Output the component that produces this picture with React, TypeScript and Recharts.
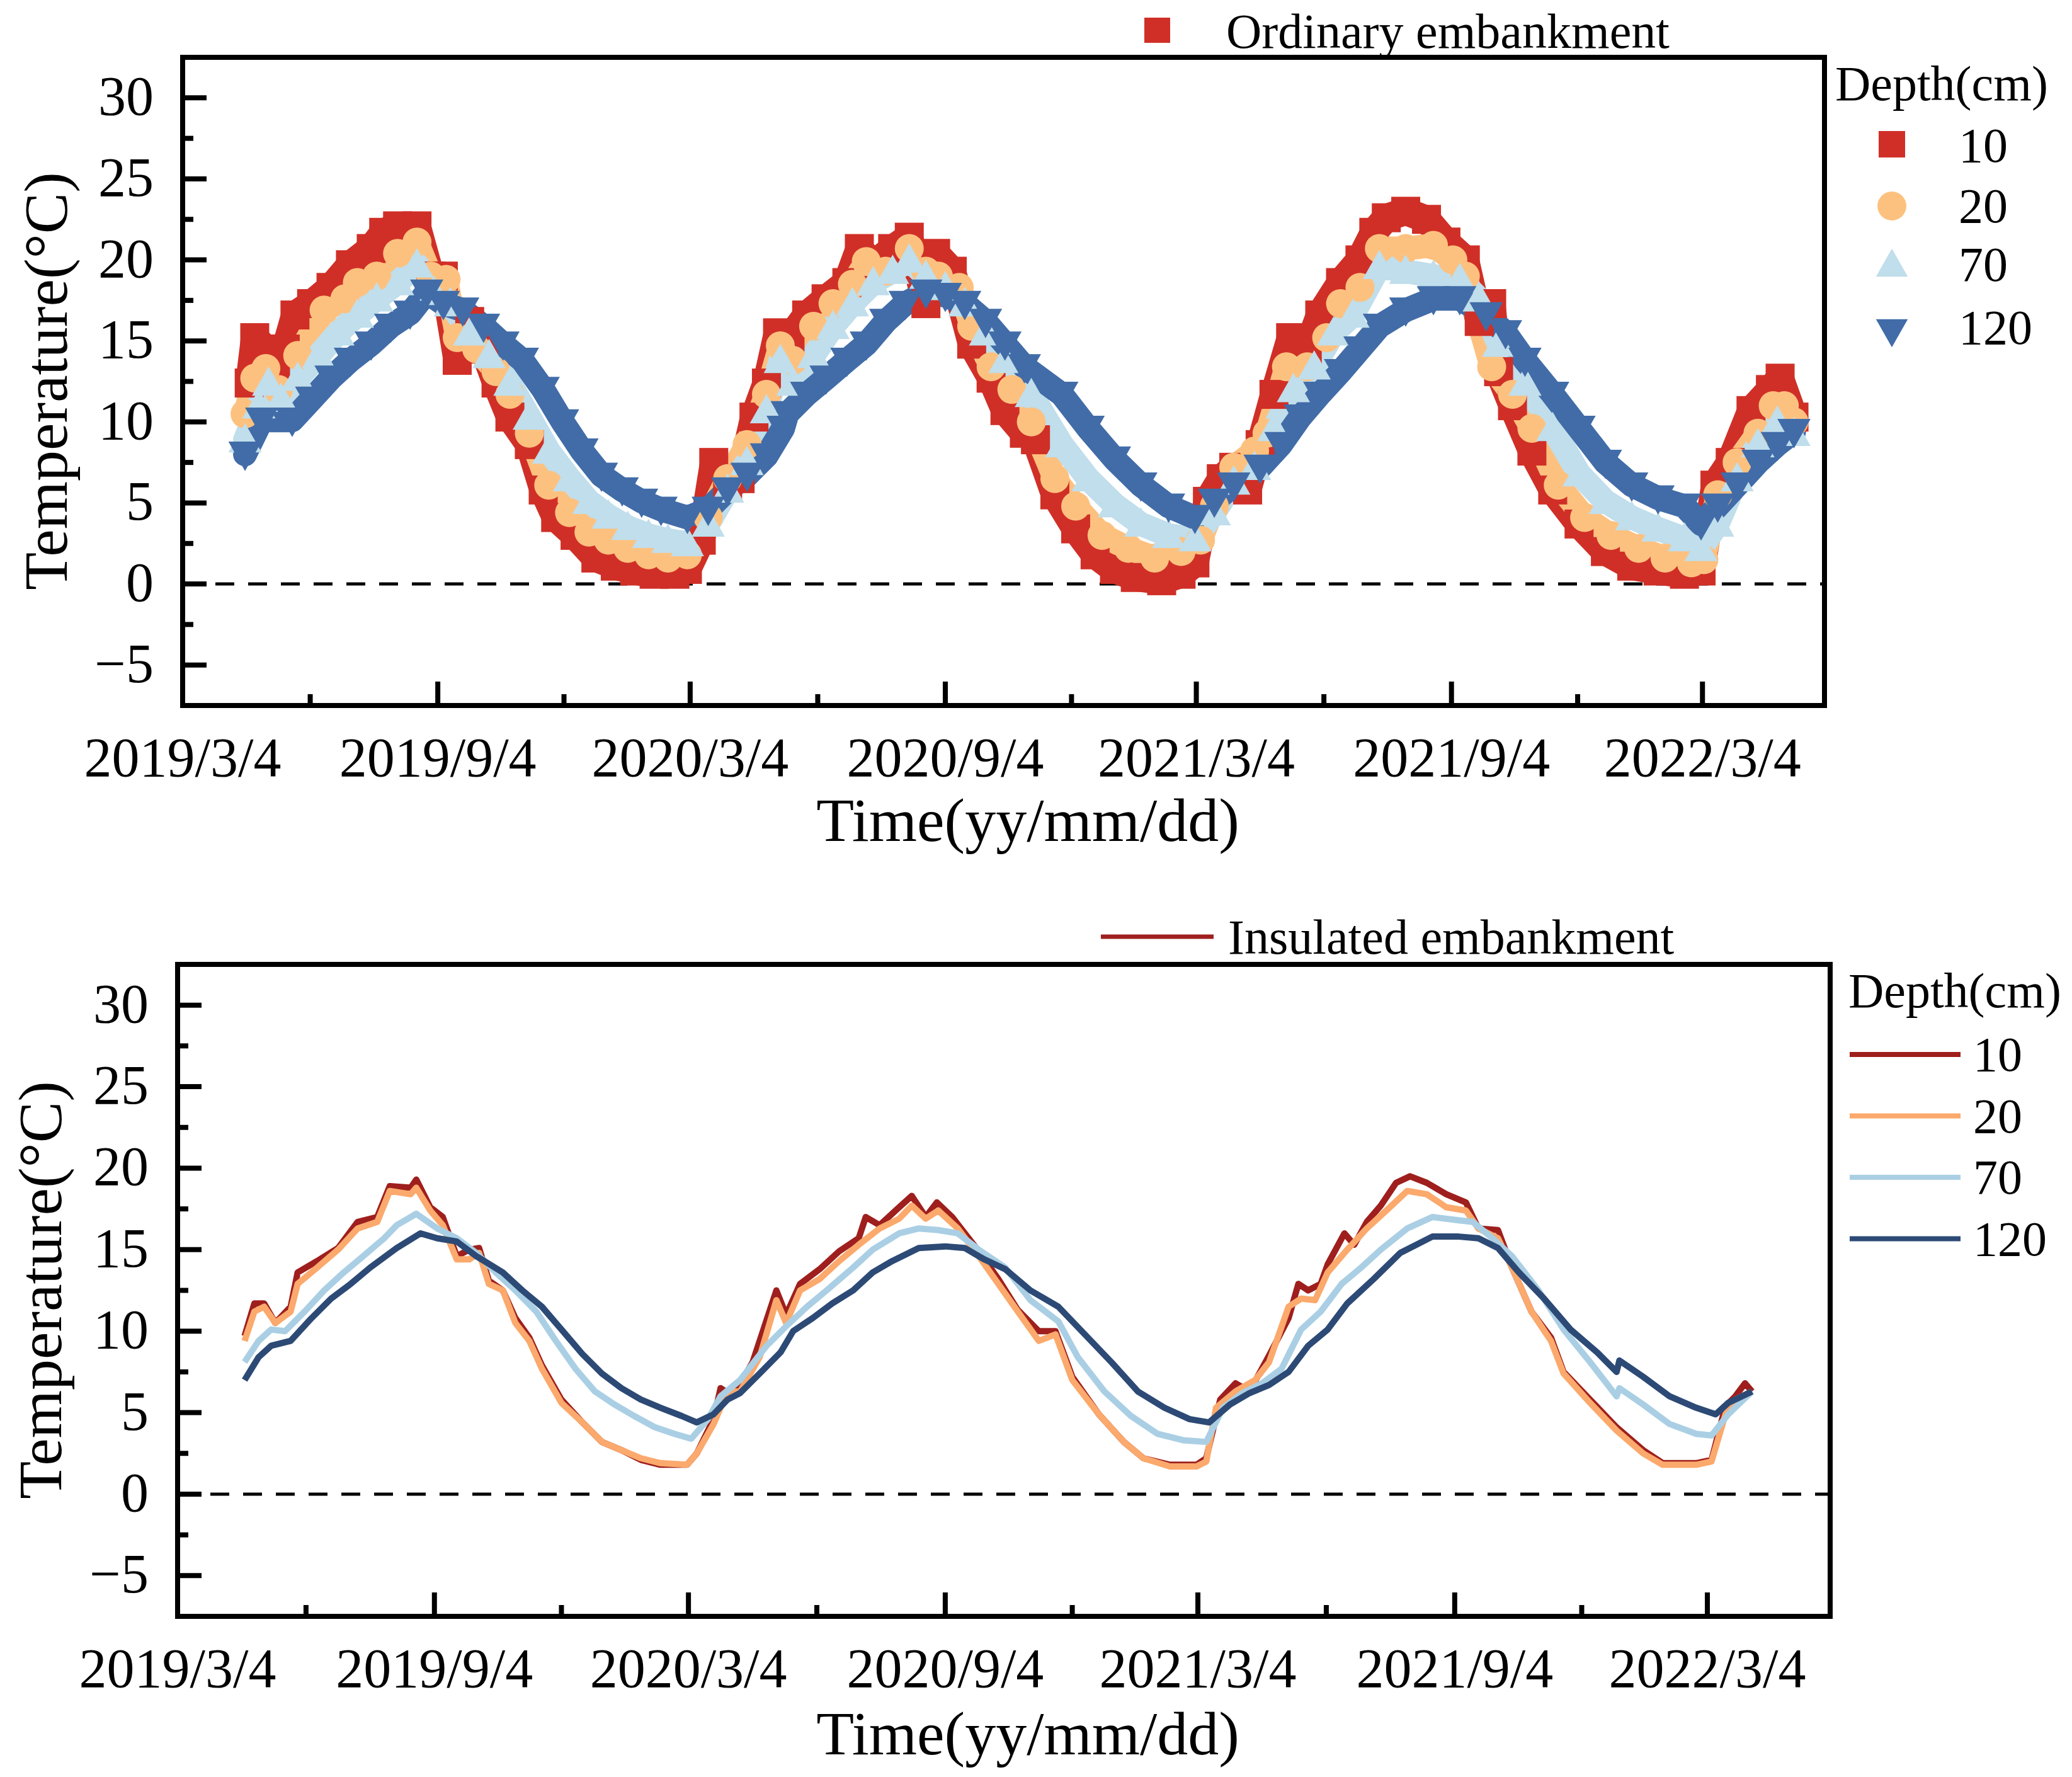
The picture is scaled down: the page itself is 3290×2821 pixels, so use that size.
import React from 'react';
import { LineChart, Line, XAxis, YAxis, ReferenceLine, ReferenceArea } from 'recharts';

const FONT = '"Liberation Serif", "Times New Roman", Times, serif';

// ---- axes ----
const xMajorDays = [0, 184, 366, 550, 731, 915, 1096];
const xMajorLabels = ['2019/3/4', '2019/9/4', '2020/3/4', '2020/9/4', '2021/3/4', '2021/9/4', '2022/3/4'];
const xMinorDays = [92, 275, 458, 641, 823, 1006];
const yMajor = [-5, 0, 5, 10, 15, 20, 25, 30];
const yMinor = [-2.5, 2.5, 7.5, 12.5, 17.5, 22.5, 27.5];
const xDomain = [0, 1184];
const yDomain = [-7.5, 32.5];
const depthLabels = ['10', '20', '70', '120'];

// ---- Ordinary embankment (days since 2019/3/4, temperature °C) ----
const ord10Days = [48,52,60,67,74,81,93,107,121,136,145,155,169,179,188,198,207,217,226,236,250,260,269,283,298,312,326,340,355,364,374,383,393,402,412,421,429,438,450,464,479,488,498,512,524,536,543,555,569,583,593,607,615,629,644,658,672,687,706,720,730,739,749,758,768,777,787,799,811,820,835,849,859,868,882,897,911,925,935,944,949,959,973,988,1007,1026,1045,1064,1083,1095,1105,1116,1131,1145,1152,1162];
const ord10 = [12.4,15.2,14.5,13.4,14.5,16.6,17.3,18.3,19.7,20.7,21.7,22.1,22.1,19.0,19.0,13.8,16.2,14.5,12.4,10.3,8.6,5.8,4.1,3.0,1.6,1.1,0.8,0.6,0.6,0.9,2.7,7.5,6.1,6.5,10.3,12.4,15.5,15.2,16.6,17.6,18.6,20.7,19.7,20.7,21.4,17.3,20.4,19.3,14.8,12.7,10.7,9.3,8.9,5.5,3.4,1.8,0.9,0.4,0.2,0.6,1.3,5.1,6.5,7.2,5.8,8.6,11.7,15.2,14.5,16.6,18.6,20.0,21.7,22.6,23.0,22.5,21.1,20.0,16.2,17.3,13.1,11.0,8.2,5.8,3.7,2.0,1.1,0.8,0.6,0.8,6.1,7.5,10.7,12.0,12.7,10.3];

const ord20Days = [45,52,60,69,83,102,117,126,140,155,169,179,190,198,212,226,236,250,264,279,293,307,321,336,350,364,379,393,407,421,431,440,455,469,483,493,507,524,536,545,560,569,583,598,612,629,644,663,682,701,720,734,744,758,773,782,796,811,825,835,849,863,882,902,916,925,944,959,973,992,1011,1030,1050,1069,1088,1097,1107,1121,1136,1147,1155,1162];
const ord20 = [10.5,12.7,13.3,12.0,14.1,16.9,17.6,18.6,19.0,20.4,21.1,19.0,18.8,15.2,14.5,13.1,11.7,9.3,6.1,4.4,3.2,2.7,2.2,1.8,1.6,1.8,4.1,6.5,8.6,11.7,14.7,13.8,15.9,17.3,18.5,19.9,19.3,20.7,19.3,19.0,18.3,15.9,13.4,12.0,10.0,6.5,4.8,3.0,2.2,1.6,2.0,2.7,4.8,7.2,8.2,9.3,13.4,13.4,15.2,17.3,18.3,20.7,20.7,20.9,20.0,19.0,13.4,11.7,9.6,6.1,4.1,3.0,2.2,1.6,1.3,1.5,5.5,7.5,9.3,11.0,11.0,10.0];

const ord70Days = [45,55,62,71,83,98,112,126,140,155,169,181,193,207,221,236,250,264,279,293,307,321,336,350,364,379,393,407,421,431,440,455,469,483,498,512,524,536,550,564,579,593,612,634,653,672,691,711,730,744,758,773,787,801,816,830,844,863,882,902,921,935,949,968,988,1007,1026,1045,1064,1083,1095,1107,1121,1136,1150,1162];
const ord70 = [8.9,11.0,12.4,11.4,12.7,14.1,15.5,16.6,17.6,18.6,19.7,18.0,17.3,15.5,14.1,12.4,10.3,8.2,6.5,5.1,4.2,3.5,3.0,2.7,2.5,3.7,5.8,7.5,10.7,13.8,12.4,14.1,15.9,17.3,18.6,19.3,20.0,19.0,18.3,17.3,15.5,13.8,11.7,8.6,6.5,4.9,3.7,3.0,2.8,4.4,6.3,7.2,9.6,12.0,13.4,15.5,16.6,19.6,19.3,19.0,18.8,17.6,14.8,12.4,9.6,6.8,5.1,4.1,3.4,2.8,2.2,3.7,6.5,8.6,10.0,9.3];

const ord120Days = [45,57,79,93,107,121,136,150,164,176,188,202,217,231,245,260,274,288,302,317,331,345,364,379,393,407,421,433,436,450,464,479,493,507,521,536,550,564,579,593,607,634,653,672,691,711,730,744,758,777,792,806,820,835,849,863,882,902,921,940,954,968,988,1007,1026,1045,1064,1083,1095,1107,1121,1136,1150,1162];
const ord120 = [8.0,10.1,10.1,11.4,12.7,13.8,14.8,15.9,16.7,18.0,17.3,16.9,15.9,14.8,13.8,12.0,10.0,8.2,6.7,5.8,5.1,4.6,4.1,4.6,5.8,6.7,7.9,9.6,10.5,11.7,12.7,13.8,14.8,16.2,17.3,18.0,17.8,17.3,16.2,14.8,13.4,11.7,9.6,7.7,6.1,4.8,4.1,5.1,6.1,7.2,8.6,10.3,11.7,13.1,14.5,15.9,16.9,17.6,17.6,16.6,15.5,13.8,11.7,9.6,7.5,6.1,5.3,4.8,3.7,4.8,6.1,7.5,8.6,9.4];

// ---- Insulated embankment ----
const ins10Days = [48,55,62,70,81,86,100,115,129,143,152,167,171,181,190,200,209,216,223,233,242,252,261,275,290,304,318,332,346,365,372,384,389,398,412,429,436,446,460,474,488,493,503,517,526,536,544,555,574,588,602,617,629,641,660,678,692,711,730,737,747,758,768,782,796,803,810,819,824,836,843,852,862,873,883,895,909,923,932,946,956,970,984,993,1012,1031,1050,1064,1088,1099,1109,1116,1123,1128];
const ins10 = [9.7,11.7,11.7,10.5,11.5,13.6,14.3,15.1,16.7,17.0,18.9,18.8,19.3,17.6,17.0,14.6,15.0,15.1,13.1,12.5,10.8,9.6,7.9,5.8,4.4,3.2,2.7,2.1,1.8,1.8,2.5,4.6,6.5,6.0,8.1,12.5,11.0,12.9,13.8,14.9,15.7,17.0,16.5,17.6,18.3,17.0,17.9,17.0,14.9,13.2,11.3,10.0,10.0,7.2,4.9,3.2,2.2,1.8,1.8,2.2,5.8,6.8,6.3,8.5,10.8,12.9,12.5,12.9,14.1,16.0,15.3,16.7,17.7,19.1,19.5,19.1,18.4,17.9,16.3,16.2,13.9,11.2,9.6,7.5,5.8,4.1,2.7,1.9,1.9,2.1,5.4,6.0,6.8,6.3];

const ins20Days = [48,55,62,70,81,86,100,115,129,143,152,167,171,181,190,200,209,216,223,233,242,252,261,275,290,304,318,332,346,365,372,384,394,403,417,429,436,446,460,474,488,503,517,526,536,545,559,574,588,602,617,629,641,660,678,692,711,730,737,744,758,772,782,796,805,815,824,838,852,866,881,895,909,923,932,946,956,970,984,993,1012,1031,1050,1064,1088,1099,1109,1116,1128];
const ins20 = [9.4,11.2,11.5,10.5,11.2,12.9,13.9,15.0,16.3,16.7,18.6,18.4,18.8,17.4,16.5,14.4,14.4,14.8,12.9,12.5,10.5,9.4,7.7,5.6,4.4,3.2,2.7,2.2,1.9,1.8,2.5,4.3,6.3,6.3,8.4,11.9,10.5,12.5,13.2,14.3,15.3,16.3,16.9,17.7,16.9,17.4,16.3,14.6,12.9,11.2,9.4,9.8,7.0,4.9,3.2,2.2,1.7,1.7,2.0,5.3,6.3,7.0,8.1,11.5,12.0,11.9,13.6,15.0,16.3,17.4,18.6,18.4,17.6,17.4,16.3,15.7,13.9,11.2,9.4,7.4,5.6,3.9,2.5,1.8,1.8,2.0,4.9,5.8,6.3];

const ins70Days = [48,58,67,77,91,105,119,133,148,157,171,186,200,214,228,242,257,271,285,299,313,327,342,356,368,380,389,403,422,436,451,465,484,498,517,531,545,559,574,593,611,631,645,664,683,702,721,737,749,763,777,791,805,819,834,848,862,881,899,918,928,942,956,975,993,1012,1031,1033,1050,1069,1088,1099,1111,1128];
const ins70 = [8.1,9.4,10.1,10.0,11.2,12.5,13.6,14.6,15.7,16.5,17.2,16.3,15.7,14.8,13.6,12.5,11.2,9.4,7.7,6.3,5.5,4.8,4.1,3.7,3.4,4.6,6.0,7.0,9.1,10.3,11.5,12.5,13.9,15.0,16.0,16.3,16.2,16.0,15.0,13.9,11.9,10.6,8.4,6.3,4.8,3.7,3.3,3.2,5.3,6.2,6.8,7.7,10.1,11.2,12.9,13.9,15.0,16.3,17.0,16.8,16.7,15.7,14.6,12.5,10.1,8.1,6.0,6.5,5.5,4.3,3.7,3.6,4.9,6.3];

const ins120Days = [48,58,67,81,96,110,124,138,157,174,186,200,214,233,247,261,275,290,304,318,332,346,361,372,384,394,403,417,432,441,455,469,484,498,512,531,550,564,578,593,611,631,650,669,688,707,725,739,754,768,782,796,810,824,838,857,876,899,918,932,946,961,979,998,1017,1031,1033,1050,1069,1088,1102,1111,1128];
const ins120 = [7.0,8.4,9.1,9.4,10.8,12.0,12.9,13.9,15.1,16.0,15.7,15.5,14.6,13.6,12.5,11.5,10.1,8.6,7.4,6.5,5.8,5.3,4.8,4.4,4.9,5.8,6.2,7.4,8.7,10.0,10.8,11.7,12.5,13.6,14.3,15.1,15.2,15.1,14.4,13.8,12.5,11.5,9.8,8.1,6.3,5.3,4.6,4.4,5.5,6.2,6.7,7.5,9.1,10.1,11.7,13.2,14.8,15.8,15.8,15.7,15.1,13.6,12.0,10.1,8.7,7.5,8.2,7.2,6.0,5.3,4.9,5.6,6.3];

// ---- styles ----
const ordColors = ['#D02F27', '#FDC17F', '#C0DEEB', '#416CA8'];
const insColors = ['#9E1F1D', '#FBA96C', '#AACFE4', '#2C4A75'];
const ordShapes = ['square', 'circle', 'up', 'down'];
const ordBand = [44, 38, 38, 38];
const ordMarker = [46, 46, 48, 48];

const zip = (days: number[], vals: number[]) => days.map((d, i) => ({ day: d, t: vals[i] }));

const ordSeries = [zip(ord10Days, ord10), zip(ord20Days, ord20), zip(ord70Days, ord70), zip(ord120Days, ord120)];
const insSeries = [zip(ins10Days, ins10), zip(ins20Days, ins20), zip(ins70Days, ins70), zip(ins120Days, ins120)];

const Marker = ({ shape, cx, cy, s, fill }: any) => {
  if (shape === 'square') return <rect x={cx - s / 2} y={cy - s / 2} width={s} height={s} fill={fill} />;
  if (shape === 'circle') return <circle cx={cx} cy={cy} r={s / 2} fill={fill} />;
  if (shape === 'up')
    return <polygon points={`${cx},${cy - s * 0.55} ${cx - s * 0.55},${cy + s * 0.42} ${cx + s * 0.55},${cy + s * 0.42}`} fill={fill} />;
  return <polygon points={`${cx},${cy + s * 0.55} ${cx - s * 0.55},${cy - s * 0.42} ${cx + s * 0.55},${cy - s * 0.42}`} fill={fill} />;
};

const makeDot = (shape: string, fill: string, s: number) => (p: any) => {
  const k = `dot-${shape}-${p.index}`;
  if (p.cx == null || p.cy == null) return <g key={k} />;
  return (
    <g key={k}>
      <Marker shape={shape} cx={p.cx} cy={p.cy} s={s} fill={fill} />
    </g>
  );
};

const XTick = (props: any) => {
  const { x, y, payload } = props;
  const idx = xMajorDays.indexOf(payload.value);
  const major = idx >= 0;
  return (
    <g>
      <line x1={x} x2={x} y1={y} y2={y - (major ? 38 : 18)} stroke="#000" strokeWidth={8} />
      {major && (
        <text x={x} y={y + 112} textAnchor="middle" fontSize={88} fontFamily={FONT} fill="#000">
          {xMajorLabels[idx]}
        </text>
      )}
    </g>
  );
};

const YTick = (props: any) => {
  const { x, y, payload } = props;
  const major = yMajor.indexOf(payload.value) >= 0;
  const v = payload.value;
  const label = v < 0 ? `\u2212${Math.abs(v)}` : `${v}`;
  return (
    <g>
      <line x1={x} x2={x + (major ? 38 : 17)} y1={y} y2={y} stroke="#000" strokeWidth={8} />
      {major && (
        <text x={x - 46} y={y + 27} textAnchor="end" fontSize={88} fontFamily={FONT} fill="#000">
          {label}
        </text>
      )}
    </g>
  );
};

const renderAxes = () => [
  <XAxis
    key="x"
    dataKey="day"
    type="number"
    domain={xDomain}
    ticks={[...xMajorDays, ...xMinorDays].sort((a, b) => a - b)}
    interval={0}
    tick={XTick}
    tickLine={false}
    axisLine={false}
    tickSize={0}
    tickMargin={0}
    height={100}
    allowDataOverflow
  />,
  <YAxis
    key="y"
    type="number"
    domain={yDomain}
    ticks={[...yMajor, ...yMinor].sort((a, b) => a - b)}
    interval={0}
    tick={YTick}
    tickLine={false}
    axisLine={false}
    tickSize={0}
    tickMargin={0}
    width={90}
    allowDataOverflow
  />,
  <ReferenceLine key="zero" y={0} stroke="#000" strokeWidth={5} strokeDasharray="30 22" />,
  <ReferenceArea key="frame" x1={0} x2={1184} y1={-7.5} y2={32.5} fill="none" fillOpacity={0} stroke="#000" strokeWidth={8} ifOverflow="visible" />,
];

export default function App() {
  return (
    <div style={{ position: 'absolute', left: 0, top: 0, width: 3290, height: 2821, background: '#fff', fontFamily: FONT }}>
      <div style={{ position: 'absolute', left: 0, top: 0 }}>
        <LineChart width={3290} height={1410} margin={{ top: 91, right: 393, bottom: 190, left: 200 }}>
          {renderAxes()}
          {ordSeries.map((d, i) => (
            <Line
              key={`ord${i}`}
              data={d}
              dataKey="t"
              type="linear"
              stroke={ordColors[i]}
              strokeWidth={ordBand[i]}
              strokeLinejoin="round"
              strokeLinecap="round"
              dot={makeDot(ordShapes[i], ordColors[i], ordMarker[i])}
              activeDot={false}
              isAnimationActive={false}
            />
          ))}
        </LineChart>
      </div>
      <div style={{ position: 'absolute', left: 0, top: 1410 }}>
        <LineChart width={3290} height={1411} margin={{ top: 121, right: 384, bottom: 155, left: 192 }}>
          {renderAxes()}
          {insSeries.map((d, i) => (
            <Line
              key={`ins${i}`}
              data={d}
              dataKey="t"
              type="linear"
              stroke={insColors[i]}
              strokeWidth={10}
              strokeLinejoin="round"
              dot={false}
              activeDot={false}
              isAnimationActive={false}
            />
          ))}
        </LineChart>
      </div>
      <svg width={3290} height={2821} style={{ position: 'absolute', left: 0, top: 0, pointerEvents: 'none' }}>
        <g fontFamily={FONT} fill="#000">
          {/* axis titles */}
          <text x={106} y={605} fontSize={98} textAnchor="middle" transform="rotate(-90 106 605)">Temperature(°C)</text>
          <text x={1632} y={1335} fontSize={98} textAnchor="middle">Time(yy/mm/dd)</text>
          <text x={97} y={2048} fontSize={98} textAnchor="middle" transform="rotate(-90 97 2048)">Temperature(°C)</text>
          <text x={1632} y={2785} fontSize={98} textAnchor="middle">Time(yy/mm/dd)</text>

          {/* top legends */}
          <rect x={1817} y={28} width={41} height={40} fill={ordColors[0]} />
          <text x={1947} y={76} fontSize={78}>Ordinary embankment</text>
          <text x={2914} y={159} fontSize={78}>Depth(cm)</text>
          {depthLabels.map((lab, i) => {
            const cy = [229, 327, 420, 526][i];
            const base = [257, 353, 446, 546][i];
            return (
              <g key={`ol${i}`}>
                <Marker shape={ordShapes[i]} cx={3004} cy={cy} s={i === 0 ? 42 : 46} fill={ordColors[i]} />
                <text x={3110} y={base} fontSize={78}>{lab}</text>
              </g>
            );
          })}

          {/* bottom legends */}
          <line x1={1748} x2={1927} y1={1487} y2={1487} stroke={insColors[0]} strokeWidth={7} />
          <text x={1950} y={1514} fontSize={78}>Insulated embankment</text>
          <text x={2935} y={1599} fontSize={78}>Depth(cm)</text>
          {depthLabels.map((lab, i) => {
            const ly = 1674 + i * 97.5;
            return (
              <g key={`il${i}`}>
                <line x1={2937} x2={3113} y1={ly} y2={ly} stroke={insColors[i]} strokeWidth={8} />
                <text x={3133} y={ly + 26} fontSize={78}>{lab}</text>
              </g>
            );
          })}
        </g>
      </svg>
    </div>
  );
}
